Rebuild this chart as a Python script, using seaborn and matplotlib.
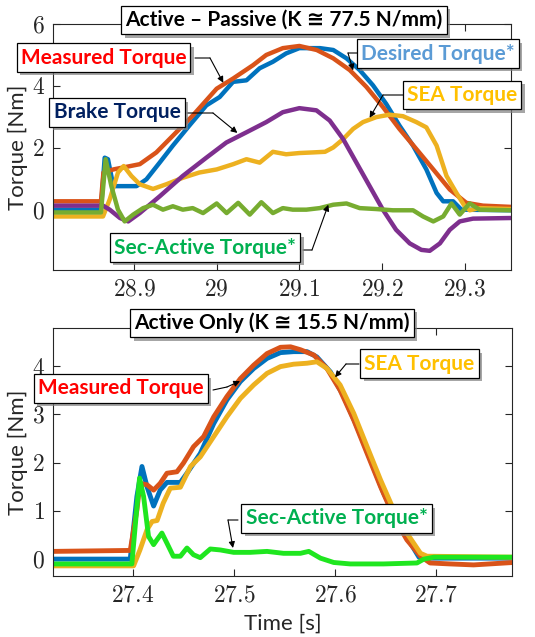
import numpy as np
import pandas as pd
import matplotlib
matplotlib.use("Agg")
import matplotlib.pyplot as plt
import matplotlib.patheffects as pe
import seaborn as sns

# ── data ─────────────────────────────────────────────────────
# top panel: Active - Passive
top_desired_t = [28.802, 28.860, 28.8645, 28.8685, 28.875, 28.903, 28.915, 28.931, 28.947, 28.967,
                 28.9875, 29.0036, 29.0198, 29.036, 29.052, 29.068, 29.084, 29.100, 29.125, 29.141,
                 29.157, 29.173, 29.189, 29.205, 29.221, 29.2375, 29.2536, 29.266, 29.274, 29.286,
                 29.296, 29.3556]
top_desired_v = [0.0, 0.0, 1.68, 1.63, 0.76, 0.76, 0.98, 1.52, 2.07, 2.72,
                 3.37, 3.64, 4.13, 4.18, 4.57, 4.78, 5.05, 5.22, 5.22, 5.16,
                 4.89, 4.51, 4.02, 3.42, 2.72, 2.07, 1.30, 0.54, 0.27, 0.27,
                 0.0, -0.02]

top_measured_t = [28.802, 28.860, 28.863, 28.875, 28.907, 28.927, 28.947, 28.971, 29.000, 29.020,
                  29.044, 29.060, 29.080, 29.100, 29.121, 29.141, 29.161, 29.181, 29.201, 29.221,
                  29.2415, 29.262, 29.282, 29.302, 29.322, 29.3556]
top_measured_v = [0.27, 0.27, 1.20, 1.30, 1.47, 1.85, 2.39, 3.04, 3.91, 4.24,
                  4.67, 5.0, 5.22, 5.29, 5.16, 4.89, 4.51, 3.97, 3.32, 2.61,
                  1.96, 1.30, 0.65, 0.22, 0.13, 0.09]

top_sea_t = [28.802, 28.8625, 28.8706, 28.8806, 28.8875, 28.8968, 28.907, 28.923, 28.939, 28.959,
             28.979, 29.000, 29.020, 29.036, 29.052, 29.068, 29.084, 29.100, 29.1165, 29.131,
             29.141, 29.153, 29.165, 29.177, 29.193, 29.209, 29.2254, 29.2415, 29.2536, 29.266,
             29.278, 29.290, 29.300, 29.306, 29.318, 29.3556]
top_sea_v = [-0.22, -0.22, 0.33, 1.20, 1.41, 1.09, 0.82, 0.67, 0.82, 1.03,
             1.20, 1.30, 1.47, 1.63, 1.52, 1.87, 1.79, 1.83, 1.85, 1.87,
             2.01, 2.28, 2.61, 2.83, 2.99, 3.07, 3.02, 2.83, 2.66, 2.07,
             1.09, 0.54, 0.11, -0.02, 0.05, 0.02]

top_brake_t = [28.802, 28.8625, 28.8706, 28.883, 28.893, 28.907, 28.931, 28.959, 28.9875, 29.0117,
               29.036, 29.060, 29.080, 29.100, 29.1206, 29.1367, 29.153, 29.169, 29.185, 29.201,
               29.217, 29.2335, 29.2476, 29.2577, 29.270, 29.282, 29.294, 29.310, 29.3556]
top_brake_v = [0.13, 0.13, 0.0, -0.27, -0.38, -0.11, 0.43, 1.09, 1.68, 2.17,
               2.50, 2.83, 3.15, 3.28, 3.21, 2.88, 2.28, 1.52, 0.76, 0.0,
               -0.65, -1.09, -1.30, -1.33, -1.09, -0.65, -0.38, -0.29, -0.27]

top_sec_t = [28.802, 28.860, 28.8657, 28.8726, 28.8806, 28.8887, 28.899, 28.911, 28.923, 28.935,
             28.947, 28.959, 28.971, 28.9835, 29.000, 29.012, 29.026, 29.040, 29.054, 29.068,
             29.080, 29.092, 29.1085, 29.1246, 29.141, 29.157, 29.173, 29.193, 29.213, 29.2375,
             29.2496, 29.262, 29.274, 29.284, 29.294, 29.306, 29.318, 29.3556]
top_sec_v = [-0.09, -0.09, 1.63, 0.76, 0.0, -0.38, -0.16, 0.05, 0.16, 0.0,
             0.11, 0.0, 0.05, -0.11, 0.20, -0.11, 0.22, -0.16, 0.24, -0.11,
             0.05, 0.0, 0.0, 0.05, 0.16, 0.20, 0.05, 0.02, -0.02, -0.02,
             -0.22, -0.38, -0.22, 0.20, -0.16, 0.20, 0.0, -0.02]

# bottom panel: Active only
bot_desired_t = [27.321, 27.3974, 27.404, 27.409, 27.414, 27.4205, 27.427, 27.4337, 27.447, 27.4535,
                 27.4667, 27.480, 27.493, 27.5063, 27.5195, 27.5327, 27.546, 27.559, 27.5723, 27.582,
                 27.5954, 27.6086, 27.6218, 27.635, 27.648, 27.661, 27.6746, 27.683, 27.691, 27.776]
bot_desired_v = [0.0, 0.0, 1.30, 1.92, 1.50, 1.10, 1.43, 1.59, 1.59, 1.78,
                 2.19, 2.81, 3.30, 3.68, 3.95, 4.16, 4.28, 4.30, 4.30, 4.19,
                 3.88, 3.37, 2.74, 2.06, 1.37, 0.81, 0.33, 0.04, 0.02, 0.02]

bot_measured_t = [27.321, 27.3974, 27.404, 27.407, 27.414, 27.4205, 27.427, 27.4337, 27.4436, 27.450,
                  27.460, 27.470, 27.480, 27.493, 27.5063, 27.5195, 27.5327, 27.546, 27.556, 27.5657,
                  27.579, 27.592, 27.605, 27.6185, 27.6317, 27.645, 27.658, 27.671, 27.6845, 27.694,
                  27.714, 27.737, 27.776]
bot_measured_v = [0.16, 0.18, 1.02, 1.57, 1.54, 1.43, 1.57, 1.78, 1.81, 1.99,
                  2.33, 2.54, 2.95, 3.37, 3.74, 4.02, 4.26, 4.39, 4.40, 4.34,
                  4.23, 3.95, 3.50, 2.88, 2.19, 1.50, 0.88, 0.40, 0.06, -0.08,
                  -0.10, -0.12, -0.07]

bot_sea_t = [27.321, 27.4007, 27.407, 27.414, 27.419, 27.424, 27.430, 27.437, 27.447, 27.457,
             27.4667, 27.480, 27.493, 27.5063, 27.5195, 27.5327, 27.546, 27.559, 27.5723, 27.582,
             27.592, 27.605, 27.6185, 27.6317, 27.645, 27.658, 27.671, 27.6845, 27.691, 27.776]
bot_sea_v = [-0.14, -0.14, 0.19, 0.61, 0.78, 0.80, 1.16, 1.47, 1.49, 1.92,
             2.12, 2.54, 2.95, 3.33, 3.61, 3.85, 3.99, 4.04, 4.06, 4.09,
             3.95, 3.61, 3.02, 2.33, 1.64, 1.02, 0.54, 0.12, 0.06, 0.04]

bot_sec_t = [27.321, 27.399, 27.4023, 27.4066, 27.4106, 27.4155, 27.4205, 27.4238, 27.4287, 27.4337,
             27.440, 27.447, 27.4535, 27.460, 27.4667, 27.4766, 27.4865, 27.4997, 27.516, 27.5327,
             27.549, 27.5657, 27.574, 27.5855, 27.5987, 27.615, 27.648, 27.681, 27.6878, 27.6977,
             27.776]
bot_sec_v = [-0.10, -0.10, 0.68, 1.68, 1.30, 0.47, 0.30, 0.40, 0.54, 0.33,
             0.06, 0.06, 0.23, 0.09, 0.03, 0.21, 0.19, 0.14, 0.14, 0.16,
             0.12, 0.12, 0.16, 0.02, -0.07, -0.10, -0.10, -0.08, 0.0, 0.04,
             0.04]

top_xticks = [28.9, 29.0, 29.1, 29.2, 29.3]
top_xlabels = ["28.9", "29", "29.1", "29.2", "29.3"]
top_yticks = [0, 2, 4, 6]
bot_xticks = [27.4, 27.5, 27.6, 27.7]
bot_xlabels = ["27.4", "27.5", "27.6", "27.7"]
bot_yticks = [0, 1, 2, 3, 4]

C_BLUE, C_ORANGE, C_YELLOW = "#0072BD", "#D95319", "#EDB120"
C_PURPLE, C_GREEN, C_LIME = "#7E2F8E", "#77AC30", "#1FE61F"

# ── style ───────────────────────────────────────────────────
sns.set_style("ticks")
plt.rcParams["font.family"] = ["Lato", "DejaVu Sans"]
plt.rcParams["mathtext.fontset"] = "cm"
plt.rcParams["axes.edgecolor"] = "#262626"
plt.rcParams["axes.linewidth"] = 0.8

W, H = 535, 637
fig = plt.figure(figsize=(W / 100, H / 100), dpi=100)


def fx(x, y):
    return (x / W, 1 - y / H)


ax1 = fig.add_axes([53 / W, 1 - 270 / H, 458 / W, 246 / H])
ax2 = fig.add_axes([53 / W, 1 - 576 / H, 459 / W, 248 / H])

top_series = [(top_desired_t, top_desired_v, C_BLUE),
              (top_measured_t, top_measured_v, C_ORANGE),
              (top_sea_t, top_sea_v, C_YELLOW),
              (top_brake_t, top_brake_v, C_PURPLE),
              (top_sec_t, top_sec_v, C_GREEN)]
for t, v, c in top_series:
    sns.lineplot(x=t, y=v, color=c, linewidth=3.2, ax=ax1)

bot_series = [(bot_desired_t, bot_desired_v, C_BLUE),
              (bot_measured_t, bot_measured_v, C_ORANGE),
              (bot_sea_t, bot_sea_v, C_YELLOW),
              (bot_sec_t, bot_sec_v, C_LIME)]
for t, v, c in bot_series:
    sns.lineplot(x=t, y=v, color=c, linewidth=3.5, ax=ax2)

ax1.set_xlim(28.802, 29.356)
ax1.set_ylim(-1.95, 6)
ax2.set_xlim(27.321, 27.775)
ax2.set_ylim(-0.35, 4.79)

for ax, xt, xl, yt in [(ax1, top_xticks, top_xlabels, top_yticks),
                       (ax2, bot_xticks, bot_xlabels, bot_yticks)]:
    ax.set_xticks(xt)
    ax.set_xticklabels([f"${s}$" for s in xl], fontsize=17)
    ax.set_yticks(yt)
    ax.set_yticklabels([f"${s}$" for s in yt], fontsize=17)
    ax.tick_params(direction="in", length=5, width=0.8, top=True, right=True, pad=6)
    ax.set_ylabel("Torque [Nm]", fontsize=16)
    ax.set_xlabel("")
    for s in ax.spines.values():
        s.set_visible(True)

ax2.set_xlabel("Time [s]", fontsize=16)
ax2.xaxis.set_label_coords(0.5, -0.15)
ax1.yaxis.set_label_coords(-0.055, 0.5)
ax2.yaxis.set_label_coords(-0.055, 0.5)

# ── labels with boxes ───────────────────────────────────────
shadow = [pe.SimplePatchShadow(offset=(2.5, -2.5), shadow_rgbFace="#808080", alpha=0.7), pe.Normal()]


def label(x, y, s, color, ha="center"):
    t = fig.text(*fx(x, y), s, color=color, fontsize=15, fontweight="bold",
                 ha=ha, va="center", zorder=10,
                 bbox=dict(boxstyle="square,pad=0.2", fc="white", ec="black", lw=0.9))
    t.get_bbox_patch().set_path_effects(shadow)
    return t


def connector(ax, p_box, p_corner, head):
    ax.annotate("", xy=fx(*p_corner), xycoords="figure fraction",
                xytext=fx(*p_box), textcoords="figure fraction",
                arrowprops=dict(arrowstyle="-", color="black", lw=0.8,
                                shrinkA=0, shrinkB=0), annotation_clip=False)
    ax.annotate("", xy=head, xycoords="data",
                xytext=fx(*p_corner), textcoords="figure fraction",
                arrowprops=dict(arrowstyle="-|>", color="black", lw=0.8,
                                mutation_scale=9, shrinkA=0, shrinkB=0),
                annotation_clip=False)


label(284, 20, "Active – Passive (K ≅ 77.5 N/mm)", "black")
label(103.5, 57.5, "Measured Torque", "#FF0000")
label(361, 53.5, "Desired Torque*", "#5B9BD5", ha="left")
label(407, 95, "SEA Torque", "#FFC000", ha="left")
label(117, 112.5, "Brake Torque", "#002060")
label(205, 247.5, "Sec-Active Torque*", "#00B050")

connector(ax1, (195, 58), (210, 58), (29.008, 4.1))
connector(ax1, (358, 53), (348, 53), (29.165, 4.5))
connector(ax1, (403, 95), (383, 95), (29.185, 2.97))
connector(ax1, (187, 113), (213, 113), (29.025, 2.48))
connector(ax1, (303, 250), (312, 250), (29.135, 0.16))

label(272, 323, "Active Only (K ≅ 15.5 N/mm)", "black")
label(121, 388.5, "Measured Torque", "#FF0000")
label(419.5, 363.5, "SEA Torque", "#FFC000")
label(336.5, 518.5, "Sec-Active Torque*", "#00B050")

connector(ax2, (213, 390), (227, 387), (27.506, 3.69))
connector(ax2, (359, 364), (346, 364), (27.6, 3.77))
connector(ax2, (238, 520), (228, 520), (27.499, 0.23))

fig.savefig("out.png", dpi=100)
